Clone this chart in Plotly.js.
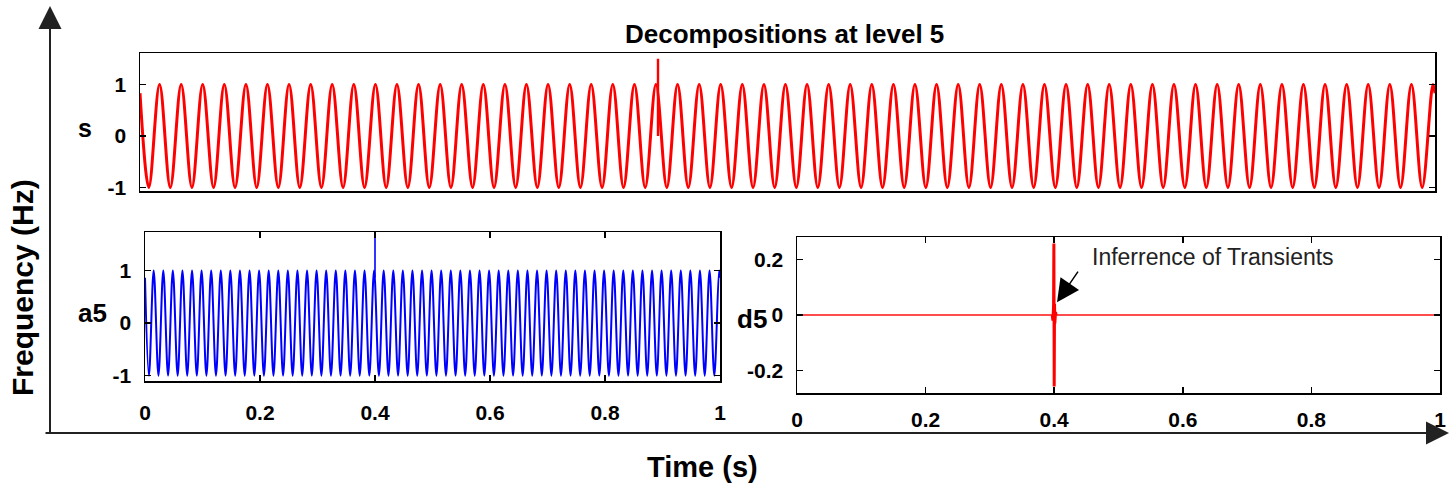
<!DOCTYPE html>
<html>
<head>
<meta charset="utf-8">
<script src="https://cdn.plot.ly/plotly-3.0.1.min.js"></script>
<style>
  html, body { margin: 0; padding: 0; background: #fff; }
  #chart { width: 1455px; height: 486px; }
</style>
</head>
<body>
<div id="chart"></div>
<script>
// ---------------- DATA ----------------
// Time (s) of the successive troughs/peaks of the 60 Hz waveform (s and a5 share the same timing)
const extremaTimes = [
  0.0068, 0.0151, 0.0234, 0.0318, 0.0401, 0.0484, 0.0568, 0.0651, 0.0734, 0.0818,
  0.0901, 0.0984, 0.1068, 0.1151, 0.1234, 0.1318, 0.1401, 0.1484, 0.1568, 0.1651,
  0.1734, 0.1818, 0.1901, 0.1984, 0.2068, 0.2151, 0.2234, 0.2318, 0.2401, 0.2484,
  0.2568, 0.2651, 0.2734, 0.2818, 0.2901, 0.2984, 0.3068, 0.3151, 0.3234, 0.3318,
  0.3401, 0.3484, 0.3568, 0.3651, 0.3734, 0.3818, 0.3901, 0.3984, 0.4068, 0.4151,
  0.4234, 0.4318, 0.4401, 0.4484, 0.4568, 0.4651, 0.4734, 0.4818, 0.4901, 0.4984,
  0.5068, 0.5151, 0.5234, 0.5318, 0.5401, 0.5484, 0.5568, 0.5651, 0.5734, 0.5818,
  0.5901, 0.5984, 0.6068, 0.6151, 0.6234, 0.6318, 0.6401, 0.6484, 0.6568, 0.6651,
  0.6734, 0.6818, 0.6901, 0.6984, 0.7068, 0.7151, 0.7234, 0.7318, 0.7401, 0.7484,
  0.7568, 0.7651, 0.7734, 0.7818, 0.7901, 0.7984, 0.8068, 0.8151, 0.8234, 0.8318,
  0.8401, 0.8484, 0.8568, 0.8651, 0.8734, 0.8818, 0.8901, 0.8984, 0.9068, 0.9151,
  0.9234, 0.9318, 0.9401, 0.9484, 0.9568, 0.9651, 0.9734, 0.9818, 0.9901, 0.9984
];
// Signal s: trough/peak values
const sExtrema = [
  -1,1,-1,1,-1,1,-1,1,-1,1, -1,1,-1,1,-1,1,-1,1,-1,1,
  -1,1,-1,1,-1,1,-1,1,-1,1, -1,1,-1,1,-1,1,-1,1,-1,1,
  -1,1,-1,1,-1,1,-1,1,-1,1, -1,1,-1,1,-1,1,-1,1,-1,1,
  -1,1,-1,1,-1,1,-1,1,-1,1, -1,1,-1,1,-1,1,-1,1,-1,1,
  -1,1,-1,1,-1,1,-1,1,-1,1, -1,1,-1,1,-1,1,-1,1,-1,1,
  -1,1,-1,1,-1,1,-1,1,-1,1, -1,1,-1,1,-1,1,-1,1,-1,1
];
// Approximation a5: trough/peak values
const a5Extrema = [
  -1,1,-1,1,-1,1,-1,1,-1,1, -1,1,-1,1,-1,1,-1,1,-1,1,
  -1,1,-1,1,-1,1,-1,1,-1,1, -1,1,-1,1,-1,1,-1,1,-1,1,
  -1,1,-1,1,-1,1,-1,1,-1,1, -1,1,-1,1,-1,1,-1,1,-1,1,
  -1,1,-1,1,-1,1,-1,1,-1,1, -1,1,-1,1,-1,1,-1,1,-1,1,
  -1,1,-1,1,-1,1,-1,1,-1,1, -1,1,-1,1,-1,1,-1,1,-1,1,
  -1,1,-1,1,-1,1,-1,1,-1,1, -1,1,-1,1,-1,1,-1,1,-1,1
];
// Signal value at the window edges (t = 0 and t = 1)
const edgeTimes = [0, 1];
const sEdgeValues = [0.83, 0.83];
const a5EdgeValues = [0.86, 0.86];

// Transient at t = 0.4 s
const sSpikeT = [0.4, 0.4, 0.4];
const sSpikeV = [0.83, 1.5, 0.0];
const a5SpikeT = [0.4, 0.4];
const a5SpikeV = [0.86, 1.62];

// Detail d5
const d5BaseT = [0, 1];
const d5BaseV = [0, 0];
const d5SpikeT = [0.397, 0.398, 0.399, 0.3995, 0.4, 0.4005, 0.401, 0.402, 0.403];
const d5SpikeV = [0, -0.02, 0.03, 0.257, -0.257, 0.04, -0.03, 0.01, 0];

// Tick labels
const xTickVals = [0, 0.2, 0.4, 0.6, 0.8, 1];
const xTickText = ['0', '0.2', '0.4', '0.6', '0.8', '1'];
const unitTickVals = [-1, 0, 1];
const unitTickText = ['-1', '0', '1'];
const d5TickVals = [-0.2, 0, 0.2];
const d5TickText = ['-0.2', '0', '0.2'];

// ---------------- LAYOUT HELPERS ----------------
const W = 1455, H = 486;
const px = v => v / W;
const py = v => 1 - v / H;
const FONT = 'Arial, "Liberation Sans", Helvetica, sans-serif';

const sX = [edgeTimes[0], ...extremaTimes, edgeTimes[1]];
const sY = [sEdgeValues[0], ...sExtrema, sEdgeValues[1]];
const aY = [a5EdgeValues[0], ...a5Extrema, a5EdgeValues[1]];

const traces = [
  { x: sX, y: sY, xaxis: 'x', yaxis: 'y', mode: 'lines',
    line: { color: '#ff0000', width: 3, shape: 'spline', smoothing: 1 }, hoverinfo: 'skip' },
  { x: sSpikeT, y: sSpikeV, xaxis: 'x', yaxis: 'y', mode: 'lines',
    line: { color: '#ff0000', width: 2.4 }, hoverinfo: 'skip' },
  { x: sX, y: aY, xaxis: 'x2', yaxis: 'y2', mode: 'lines',
    line: { color: '#0000ff', width: 2, shape: 'spline', smoothing: 1 }, hoverinfo: 'skip' },
  { x: a5SpikeT, y: a5SpikeV, xaxis: 'x2', yaxis: 'y2', mode: 'lines',
    line: { color: '#0000ff', width: 1.6 }, hoverinfo: 'skip' },
  { x: d5BaseT, y: d5BaseV, xaxis: 'x3', yaxis: 'y3', mode: 'lines',
    line: { color: 'rgba(255,0,0,0.7)', width: 2 }, hoverinfo: 'skip' },
  { x: d5SpikeT, y: d5SpikeV, xaxis: 'x3', yaxis: 'y3', mode: 'lines',
    line: { color: '#ff0000', width: 3 }, hoverinfo: 'skip' }
];

const tickFont = { family: FONT, size: 21, color: '#000', weight: 'bold' };
const baseAxis = {
  showline: true, linecolor: '#000', linewidth: 1.5, mirror: 'ticks',
  ticks: 'inside', ticklen: 6, tickwidth: 1.5, tickcolor: '#000',
  showgrid: false, zeroline: false, fixedrange: true, tickfont: tickFont
};

const layout = {
  width: W, height: H,
  margin: { l: 0, r: 0, t: 0, b: 0 },
  paper_bgcolor: '#fff', plot_bgcolor: '#fff',
  showlegend: false,
  xaxis: Object.assign({}, baseAxis, { domain: [px(140), px(1435)], range: [0, 1], anchor: 'y',
    ticks: '', showticklabels: false, mirror: true }),
  yaxis: Object.assign({}, baseAxis, { domain: [py(191), py(53)], range: [-1.07, 1.61], anchor: 'x',
    tickmode: 'array', tickvals: unitTickVals, ticktext: unitTickText, ticklabelstandoff: 8 }),
  xaxis2: Object.assign({}, baseAxis, { domain: [px(145), px(720)], range: [0, 1], anchor: 'y2',
    tickmode: 'array', tickvals: xTickVals, ticktext: xTickText, ticklabelstandoff: 12 }),
  yaxis2: Object.assign({}, baseAxis, { domain: [py(381), py(232)], range: [-1.10, 1.73], anchor: 'x2',
    tickmode: 'array', tickvals: unitTickVals, ticktext: unitTickText, ticklabelstandoff: 8 }),
  xaxis3: Object.assign({}, baseAxis, { domain: [px(797), px(1440)], range: [0, 1], anchor: 'y3',
    tickmode: 'array', tickvals: xTickVals, ticktext: xTickText, ticklabelstandoff: 7 }),
  yaxis3: Object.assign({}, baseAxis, { domain: [py(393), py(237)], range: [-0.28, 0.28], anchor: 'x3',
    tickmode: 'array', tickvals: d5TickVals, ticktext: d5TickText, ticklabelstandoff: 8 }),
  annotations: [
    { text: 'Decompositions at level 5', xref: 'paper', yref: 'paper', x: px(784), y: py(34),
      xanchor: 'center', yanchor: 'middle', showarrow: false,
      font: { family: FONT, size: 26, color: '#000', weight: 'bold' } },
    { text: 's', xref: 'paper', yref: 'paper', x: px(85), y: py(128),
      xanchor: 'center', yanchor: 'middle', showarrow: false,
      font: { family: FONT, size: 25, color: '#000', weight: 'bold' } },
    { text: 'a5', xref: 'paper', yref: 'paper', x: px(92), y: py(313),
      xanchor: 'center', yanchor: 'middle', showarrow: false,
      font: { family: FONT, size: 26, color: '#000', weight: 'bold' } },
    { text: 'd5', xref: 'paper', yref: 'paper', x: px(752), y: py(319),
      xanchor: 'center', yanchor: 'middle', showarrow: false,
      font: { family: FONT, size: 26, color: '#000', weight: 'bold' } },
    { text: 'Frequency (Hz)', xref: 'paper', yref: 'paper', x: px(22), y: py(288),
      xanchor: 'center', yanchor: 'middle', showarrow: false, textangle: -90,
      font: { family: FONT, size: 30, color: '#000', weight: 'bold' } },
    { text: 'Time (s)', xref: 'paper', yref: 'paper', x: px(702), y: py(467),
      xanchor: 'center', yanchor: 'middle', showarrow: false,
      font: { family: FONT, size: 29, color: '#000', weight: 'bold' } },
    { text: 'Inferrence of Transients', xref: 'paper', yref: 'paper', x: px(1213), y: py(257),
      xanchor: 'center', yanchor: 'middle', showarrow: false,
      font: { family: FONT, size: 23, color: '#222' } },
    // arrow pointing at the transient
    { text: '', xref: 'x3', yref: 'y3', x: 0.4044, y: 0.046, ax: 22, ay: -32,
      showarrow: true, arrowhead: 2, arrowsize: 3, arrowwidth: 1.5, arrowcolor: '#000', standoff: 0 },
    // big frame arrows (frequency / time)
    { text: '', xref: 'paper', yref: 'paper', x: px(50), y: py(6), ax: 0, ay: 429,
      showarrow: true, arrowhead: 2, arrowsize: 2.3, arrowwidth: 2, arrowcolor: '#222', standoff: 0 },
    { text: '', xref: 'paper', yref: 'paper', x: px(1449), y: py(433), ax: -1405, ay: 0,
      showarrow: true, arrowhead: 2, arrowsize: 2.3, arrowwidth: 2, arrowcolor: '#222', standoff: 0 }
  ]
};

Plotly.newPlot('chart', traces, layout, { staticPlot: true, displayModeBar: false });
</script>
</body>
</html>
